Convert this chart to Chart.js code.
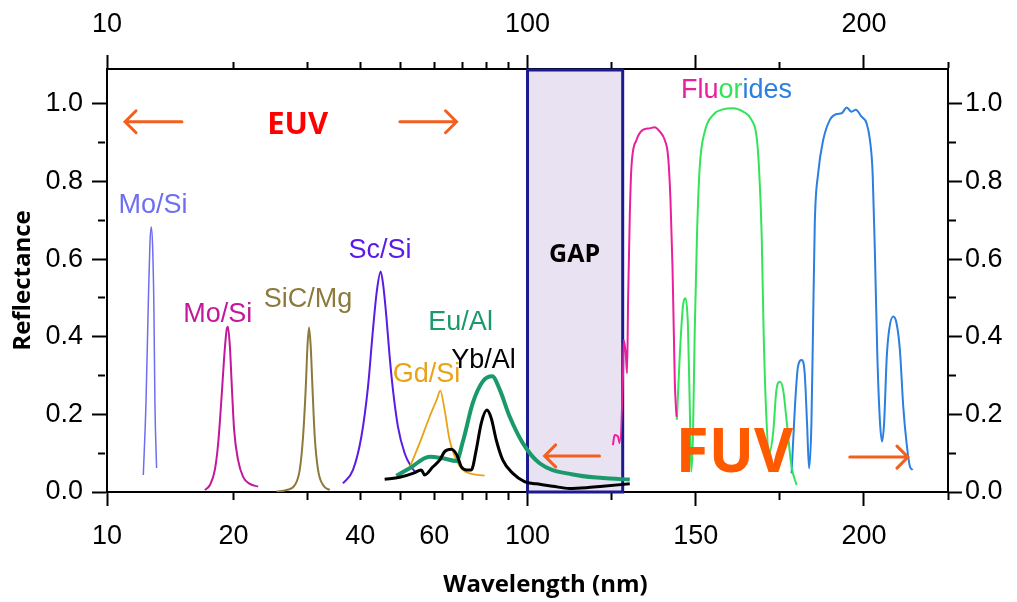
<!DOCTYPE html>
<html>
<head>
<meta charset="utf-8">
<script src="https://cdn.jsdelivr.net/npm/chart.js@4.4.1/dist/chart.umd.min.js"></script>
<style>
  html, body { margin: 0; padding: 0; background: #fff; }
</style>
</head>
<body>
<canvas id="myChart" width="1017" height="602"></canvas>
<script>
// ---- data (wavelength in nm, reflectance) ----
const moSi13Wl = [12.20, 12.38, 12.54, 12.65, 12.74, 12.84, 12.93, 13.00, 13.12]
const moSi13R  = [0.044, 0.23, 0.49, 0.64, 0.683, 0.63, 0.47, 0.23, 0.062]

const moSi19Wl = [17.09, 17.57, 18.05, 18.38, 18.73, 19.00, 19.25, 19.39, 19.60, 19.81, 20.06, 20.50, 21.07, 21.86, 22.88]
const moSi19R  = [0.005, 0.018, 0.057, 0.125, 0.246, 0.349, 0.418, 0.426, 0.375, 0.271, 0.16, 0.082, 0.039, 0.021, 0.014]

const sicMgWl = [25.30, 26.73, 27.97, 28.73, 29.26, 29.70, 29.97, 30.23, 30.51, 30.80, 31.19, 31.76, 32.64, 33.86]
const sicMgR  = [0.001, 0.005, 0.018, 0.057, 0.143, 0.271, 0.375, 0.424, 0.375, 0.271, 0.143, 0.057, 0.018, 0.005]

const scSiWl = [36.40, 38.46, 40.27, 41.75, 42.90, 43.85, 44.75, 45.32, 46.17, 47.01, 47.87, 49.20, 51.03, 52.93, 54.40]
const scSiR  = [0.022, 0.057, 0.143, 0.271, 0.418, 0.52, 0.568, 0.538, 0.452, 0.349, 0.263, 0.168, 0.10, 0.065, 0.048]

const gdSiWl = [52.15, 55.40, 58.51, 60.78, 62.04, 63.53, 65.28, 67.71, 70.20, 72.81, 79.04]
const gdSiR  = [0.057, 0.126, 0.194, 0.237, 0.261, 0.211, 0.134, 0.082, 0.057, 0.048, 0.042]

const euAlWl = [48.76, 52.44, 58.51, 62.93, 67.71, 70.20, 74.15, 78.30, 82.44, 85.80, 90.63, 97.46, 103.6, 113.5, 122.4, 130.4]
const euAlR  = [0.042, 0.061, 0.091, 0.087, 0.08, 0.13, 0.23, 0.285, 0.298, 0.265, 0.195, 0.126, 0.074, 0.045, 0.036, 0.032]

const ybAlWl = [45.74, 49.66, 53.40, 55.91, 56.92, 59.58, 61.80, 63.53, 65.90, 67.94, 69.59, 71.52, 73.50, 75.51, 77.62, 80.03, 81.99, 84.27, 87.36, 92.28, 98.37, 102.6, 107.5, 112.5, 117.5, 122.4, 130.4]
const ybAlR  = [0.033, 0.038, 0.048, 0.057, 0.044, 0.065, 0.082, 0.104, 0.11, 0.095, 0.065, 0.057, 0.057, 0.108, 0.177, 0.211, 0.19, 0.134, 0.082, 0.048, 0.027, 0.021, 0.015, 0.009, 0.011, 0.015, 0.021]

const fluoPinkWl = [125.4, 125.9, 126.9, 127.4, 128.4, 128.6, 129.2, 129.6, 129.9, 130.4, 130.9, 132.4, 134.3, 136.3, 137.8, 139.3, 140.8, 141.8, 142.5, 143.1, 143.5, 143.8, 144.3]
const fluoPinkR  = [0.121, 0.147, 0.143, 0.126, 0.306, 0.392, 0.357, 0.306, 0.495, 0.71, 0.838, 0.907, 0.933, 0.937, 0.94, 0.929, 0.907, 0.864, 0.753, 0.581, 0.409, 0.28, 0.194]

const fluoGreenWl = [144.4, 145.2, 146.2, 147.0, 147.7, 148.2, 148.7, 149.2, 149.7, 150.4, 151.2, 152.7, 155.2, 158.1, 161.1, 164.1, 166.6, 168.1, 168.8, 169.6, 170.2, 171.0, 171.8, 173.0, 174.0, 175.0, 176.0, 177.0, 178.5, 180.0]
const fluoGreenR  = [0.186, 0.34, 0.478, 0.499, 0.426, 0.237, 0.052, 0.151, 0.409, 0.667, 0.838, 0.929, 0.972, 0.986, 0.989, 0.98, 0.959, 0.916, 0.838, 0.667, 0.409, 0.194, 0.1, 0.151, 0.263, 0.284, 0.263, 0.186, 0.065, 0.018]

const fluoBlueWl = [178.5, 179.5, 180.4, 181.5, 182.4, 183.1, 183.7, 184.4, 184.9, 185.4, 186.4, 187.9, 189.9, 191.9, 193.4, 194.9, 196.3, 197.6, 199.3, 200.8, 201.8, 202.6, 203.3, 204.0, 204.8, 205.4, 206.0, 206.8, 207.5, 208.7, 209.7, 210.7, 211.7, 212.7, 213.7, 214.5]
const fluoBlueR  = [0.048, 0.22, 0.323, 0.34, 0.306, 0.177, 0.061, 0.177, 0.435, 0.692, 0.821, 0.907, 0.959, 0.974, 0.976, 0.991, 0.98, 0.985, 0.967, 0.95, 0.907, 0.821, 0.606, 0.349, 0.177, 0.13, 0.177, 0.349, 0.418, 0.452, 0.435, 0.366, 0.22, 0.125, 0.065, 0.057]

// ---- axes ----
const xTicks = [10, 20, 30, 40, 50, 60, 70, 80, 90, 100, 125, 150, 175, 200, 225]
const xMajor = [10, 100, 150, 200]
const bottomLabels = [10, 20, 40, 60, 100, 150, 200]
const topLabels = [10, 100, 200]
const yTicks = [0, 0.1, 0.2, 0.3, 0.4, 0.5, 0.6, 0.7, 0.8, 0.9, 1.0]
const gapStart = 100, gapEnd = 128.3

// log 10-100 on the left half, linear 100-225 on the right half
class SplitScale extends Chart.Scale {
    determineDataLimits(){
        this.min = this.options.min
        this.max = this.options.max
    }
    buildTicks(){
        return xTicks.map(v => ({ value: v }))
    }
    getLabelForValue(v){ return String(v) }
    toDecimal(v){
        const u = v <= 100 ? Math.log10(v) - 1 : 1 + (v - 100) / 125
        return u / 2
    }
    getPixelForValue(v){ return this.getPixelForDecimal(this.toDecimal(v)) }
    getValueForPixel(p){
        const u = this.getDecimalForPixel(p) * 2
        return u <= 1 ? Math.pow(10, u + 1) : 100 + (u - 1) * 125
    }
}
SplitScale.id = 'split'
SplitScale.defaults = {}
Chart.register(SplitScale)

const tickFont = { family: "'Liberation Sans', Arial, sans-serif", size: 27 }
const titleFont = { family: "'Open Sans', sans-serif", size: 24, weight: 'bold' }

const isMajorY = v => Math.round(v * 10) % 2 === 0
const isMajorX = v => xMajor.includes(v)
// short minor ticks: dash only part of the tick line (it is drawn outer->inner on left/top)
const minorDash = major => c => (c.tick && !major(c.tick.value)) ? [7, 100] : []

function xAxis(position, labels){
    const flip = position === 'top'
    return {
        type: 'split', position, min: 10, max: 225,
        border: { color: '#000', width: 2 },
        grid: { drawOnChartArea: false, tickLength: 14, tickWidth: 2, tickColor: '#000',
            tickBorderDash: minorDash(isMajorX),
            tickBorderDashOffset: c => (c.tick && !isMajorX(c.tick.value) && flip) ? 100 : 0 },
        ticks: { autoSkip: false, maxRotation: 0, minRotation: 0, padding: 14, color: '#000', font: tickFont,
            callback: v => labels.includes(v) ? String(v) : '' },
        afterFit: s => { s.height = flip ? 69 : 110 }
    }
}
function yAxis(position){
    const flip = position === 'left'
    return {
        type: 'linear', position, min: 0, max: 1.09,
        border: { color: '#000', width: 2 },
        grid: { drawOnChartArea: false, tickLength: flip ? 15 : 14, tickWidth: 2, tickColor: '#000',
            tickBorderDash: minorDash(isMajorY),
            tickBorderDashOffset: c => (c.tick && !isMajorY(c.tick.value) && flip) ? 101 : 0 },
        ticks: { padding: flip ? 9 : 3, color: '#000', font: tickFont,
            callback: v => isMajorY(v) ? v.toFixed(1) : '' },
        afterBuildTicks: axis => { axis.ticks = yTicks.map(v => ({ value: v })) },
        afterFit: s => { s.width = flip ? 107 : 69 }
    }
}

const pts = (wl, r) => wl.map((w, i) => ({ x: w, y: r[i] }))
function series(label, wl, r, color, width){
    return { label, data: pts(wl, r), borderColor: color, borderWidth: width,
        pointRadius: 0, fill: false, cubicInterpolationMode: 'monotone' }
}

// ---- text & arrows on the plot, placed in data units ----
const labelFont = "27px 'Liberation Sans', Arial"
const notes = [
    { text: 'Mo/Si', wl: 12.86, r: 0.719, color: '#6e6ef0' },
    { text: 'Mo/Si', wl: 18.35, r: 0.438, color: '#c2189b' },
    { text: 'SiC/Mg', wl: 30.05, r: 0.477, color: '#8c7a3c' },
    { text: 'Sc/Si', wl: 44.6, r: 0.603, color: '#5a1be6' },
    { text: 'Gd/Si', wl: 57.55, r: 0.284, color: '#e8a317' },
    { text: 'Eu/Al', wl: 69.33, r: 0.418, color: '#1a9a6a' },
    { text: 'Yb/Al', wl: 78.62, r: 0.320, color: '#000' },
    { text: 'GAP', wl: 114.0, r: 0.593, color: '#000', font: "bold 25px 'Open Sans'" },
    { text: 'EUV', wl: 28.4, r: 0.922, color: '#ff0000', font: "bold 31px 'Open Sans'" },
    { text: 'FUV', wl: 161.5, r: 0.052, color: '#ff5a00', font: "bold 60px 'Open Sans'" }
]
const arrows = [
    [15.07, 11.04, 0.954], [49.7, 67.8, 0.954], [121.4, 105.1, 0.093], [195.8, 213.1, 0.09]
]
const fluorideParts = [['Flu', '#ea1f9c'], ['or', '#33e35a'], ['ides', '#2a7fe0']]

const annotations = {
    id: 'annotations',
    beforeDatasetsDraw(chart){
        const { ctx, chartArea, scales: { x } } = chart
        const l = x.getPixelForValue(gapStart), r = x.getPixelForValue(gapEnd)
        ctx.save()
        ctx.fillStyle = '#e9e2f2'
        ctx.fillRect(l, chartArea.top, r - l, chartArea.bottom - chartArea.top)
        ctx.strokeStyle = '#1b1b8f'
        ctx.lineWidth = 3
        ctx.strokeRect(l, chartArea.top + 1, r - l, chartArea.bottom - chartArea.top - 1)
        ctx.restore()
    },
    afterDatasetsDraw(chart){
        const { ctx, scales: { x, y } } = chart
        ctx.save()
        ctx.textBaseline = 'alphabetic'
        ctx.textAlign = 'center'
        notes.forEach(n => {
            ctx.font = n.font || labelFont
            ctx.fillStyle = n.color
            ctx.fillText(n.text, x.getPixelForValue(n.wl), y.getPixelForValue(n.r))
        })
        // Fluorides, coloured by part
        ctx.font = labelFont
        ctx.textAlign = 'left'
        let px = x.getPixelForValue(145.6)
        const py = y.getPixelForValue(1.015)
        fluorideParts.forEach(([t, c]) => {
            ctx.fillStyle = c
            ctx.fillText(t, px, py)
            px += ctx.measureText(t).width
        })
        // arrows
        ctx.strokeStyle = '#f2601f'
        ctx.lineWidth = 3
        ctx.lineCap = 'round'
        arrows.forEach(([a, b, r]) => {
            const x1 = x.getPixelForValue(a), x2 = x.getPixelForValue(b), yy = y.getPixelForValue(r)
            const dir = Math.sign(x2 - x1)
            ctx.beginPath()
            ctx.moveTo(x1, yy); ctx.lineTo(x2, yy)
            ctx.moveTo(x2 - dir * 11, yy - 11); ctx.lineTo(x2, yy); ctx.lineTo(x2 - dir * 11, yy + 11)
            ctx.stroke()
        })
        ctx.restore()
    }
}

const ctx = document.getElementById('myChart')
new Chart(ctx, {
    type: 'line',
    data: {
        datasets: [
            series('Yb/Al', ybAlWl, ybAlR, '#000000', 3),
            series('Eu/Al', euAlWl, euAlR, '#1a9a6a', 4),
            series('Gd/Si', gdSiWl, gdSiR, '#e8a317', 1.8),
            series('Sc/Si', scSiWl, scSiR, '#5a1be6', 2),
            series('SiC/Mg', sicMgWl, sicMgR, '#8c7a3c', 2),
            series('Mo/Si 19', moSi19Wl, moSi19R, '#c2189b', 2),
            series('Mo/Si 13', moSi13Wl, moSi13R, '#6e6ef0', 1.5),
            series('Fluoride 1', fluoPinkWl, fluoPinkR, '#ea1f9c', 2),
            series('Fluoride 2', fluoGreenWl, fluoGreenR, '#33e35a', 2),
            series('Fluoride 3', fluoBlueWl, fluoBlueR, '#2a7fe0', 2)
        ]
    },
    options: {
        responsive: false,
        animation: false,
        layout: { padding: 0 },
        scales: {
            x: { ...xAxis('bottom', bottomLabels),
                title: { display: true, text: '\u2003\u2002Wavelength (nm)', color: '#000', font: titleFont, padding: { top: 0, bottom: 2 } } },
            x2: xAxis('top', topLabels),
            y: { ...yAxis('left'),
                title: { display: true, text: 'Reflectance', color: '#000', font: titleFont, padding: { top: 9, bottom: 0 } } },
            y2: yAxis('right')
        },
        plugins: {
            legend: { display: false },
            tooltip: { enabled: false }
        }
    },
    plugins: [annotations]
})
</script>
</body>
</html>
